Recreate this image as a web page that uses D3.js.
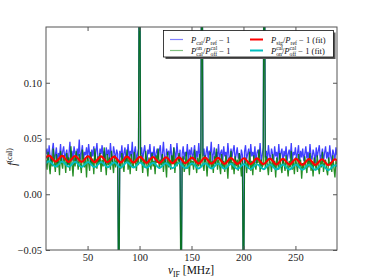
<!DOCTYPE html>
<html><head><meta charset="utf-8">
<script src="https://cdn.jsdelivr.net/npm/d3@7"></script>
<style>
html,body{margin:0;padding:0;background:#fff;}
svg{display:block;font-family:"Liberation Serif","DejaVu Serif",serif;}
</style></head>
<body><svg id="c" width="374" height="280"></svg>
<script>
// frequency grid (MHz): first channel and spacing
const freqStart = 10, freqStep = 1;
// P_cal/P_ref - 1 (blue)
const blueRatio = [
0.036,0.041,0.030,0.044,0.033,0.027,0.039,0.046,0.031,0.035,0.042,0.028,0.037,0.033,0.045,0.029,0.038,0.043,0.032,0.036,
0.040,0.026,0.035,0.047,0.033,0.039,0.030,0.043,0.036,0.028,0.041,0.034,0.049,0.031,0.037,0.044,0.029,0.038,0.035,0.042,
0.031,0.045,0.036,0.027,0.040,0.034,0.043,0.030,0.038,0.046,0.033,0.029,0.041,0.036,0.044,0.032,0.039,0.027,0.042,0.035,
0.040,0.031,0.046,0.034,0.029,0.043,0.037,0.032,0.040,0.036,
-0.10,
0.039,0.033,0.044,0.030,0.037,0.042,0.028,0.036,0.045,0.032,0.039,0.034,0.047,0.030,0.038,0.043,0.029,0.036,0.041,
0.32,
0.035,0.042,0.030,0.038,0.044,0.033,0.027,0.040,0.036,0.045,0.031,0.038,0.034,0.043,0.029,0.037,0.041,0.032,0.039,
0.044,0.030,0.036,0.047,0.033,0.028,0.041,0.035,0.039,0.031,0.045,0.034,0.029,0.042,0.037,0.032,0.046,0.035,0.030,0.040,
-0.10,
0.036,0.043,0.031,0.038,0.034,0.045,0.029,0.040,0.035,0.042,0.031,0.037,0.044,0.028,0.039,0.033,0.046,0.032,0.038,
0.32,
0.034,0.041,0.029,0.037,0.043,0.032,0.039,0.035,0.047,0.030,0.036,0.042,0.028,0.038,0.033,0.045,0.031,0.037,0.040,
0.029,0.043,0.034,0.038,0.031,0.046,0.035,0.028,0.041,0.033,0.039,0.044,0.030,0.036,0.042,0.032,0.037,0.027,0.040,0.035,
-0.10,
0.038,0.044,0.031,0.036,0.041,0.029,0.045,0.034,0.038,0.032,0.043,0.028,0.037,0.040,0.033,0.046,0.030,0.035,0.042,
0.32,
0.033,0.039,0.029,0.044,0.035,0.031,0.041,0.036,0.028,0.043,0.034,0.038,0.030,0.045,0.032,0.037,0.041,0.027,0.039,
0.034,0.043,0.030,0.036,0.040,0.032,0.046,0.029,0.038,0.035,0.042,0.031,0.037,0.044,0.028,0.039,0.033,0.041,0.030,0.036,
0.043,0.032,0.038,0.029,0.045,0.034,0.031,0.040,0.036,0.028,0.042,0.033,0.039,0.044,0.030,0.035,0.041,0.029,0.037,0.043,
0.032,0.038,0.030,0.044,0.034,0.029,0.040,0.036,0.031,0.042,0.035
];
// P^on_cal/P^cal_off - 1 (green)
const greenRatio = [
0.031,0.022,0.038,0.027,0.018,0.034,0.025,0.041,0.029,0.020,0.036,0.024,0.032,0.017,0.039,0.028,0.023,0.035,0.030,0.019,
0.037,0.026,0.033,0.021,0.043,0.028,0.016,0.034,0.025,0.039,0.030,0.022,0.036,0.027,0.019,0.040,0.031,0.024,0.033,0.015,
0.035,0.028,0.021,0.038,0.026,0.032,0.018,0.041,0.029,0.023,0.034,0.027,0.037,0.020,0.031,0.025,0.042,0.030,0.017,0.036,
0.026,0.033,0.022,0.039,0.028,0.019,0.035,0.024,0.031,0.027,
-0.12,
0.030,0.023,0.037,0.026,0.020,0.034,0.029,0.040,0.022,0.032,0.018,0.036,0.027,0.024,0.038,0.030,0.021,0.033,0.026,
0.30,
0.028,0.035,0.019,0.031,0.024,0.039,0.027,0.016,0.033,0.029,0.022,0.037,0.025,0.030,0.018,0.035,0.028,0.041,0.023,
0.031,0.026,0.036,0.020,0.033,0.028,0.015,0.038,0.024,0.030,0.022,0.035,0.027,0.042,0.019,0.032,0.025,0.029,0.037,0.021,
-0.12,
0.029,0.034,0.020,0.027,0.038,0.023,0.031,0.017,0.035,0.026,0.030,0.022,0.040,0.028,0.019,0.033,0.025,0.036,0.024,
0.30,
0.027,0.021,0.035,0.029,0.016,0.032,0.025,0.038,0.023,0.030,0.019,0.034,0.027,0.041,0.022,0.031,0.026,0.018,0.036,
0.024,0.030,0.020,0.035,0.027,0.014,0.033,0.026,0.039,0.022,0.029,0.018,0.034,0.025,0.031,0.021,0.037,0.028,0.016,0.032,
-0.12,
0.025,0.033,0.019,0.029,0.024,0.038,0.021,0.030,0.017,0.035,0.026,0.022,0.032,0.028,0.040,0.020,0.031,0.024,0.027,
0.30,
0.023,0.034,0.026,0.017,0.031,0.028,0.020,0.036,0.024,0.030,0.015,0.033,0.027,0.022,0.037,0.025,0.019,0.032,0.028,
0.021,0.035,0.026,0.016,0.030,0.024,0.039,0.022,0.029,0.018,0.033,0.027,0.020,0.036,0.025,0.031,0.014,0.028,0.023,0.034,
0.026,0.019,0.032,0.024,0.037,0.021,0.029,0.016,0.033,0.027,0.022,0.035,0.025,0.018,0.030,0.024,0.038,0.020,0.028,0.031,
0.022,0.017,0.033,0.026,0.029,0.020,0.035,0.024,0.015,0.030,0.027
];
// fit curves, sampled at their crests and troughs
const fitFreq = [6.75,13,19.25,25.5,31.75,38,44.25,50.5,56.75,63,69.25,75.5,81.75,88,94.25,100.5,106.75,113,119.25,125.5,
131.75,138,144.25,150.5,156.75,163,169.25,175.5,181.75,188,194.25,200.5,206.75,213,219.25,225.5,231.75,238,244.25,250.5,
256.75,263,269.25,275.5,281.75,288,294.25];
const redFit = [0.0294,0.0346,0.0293,0.0344,0.0291,0.0343,0.0290,0.0341,0.0288,0.0340,0.0287,0.0338,0.0285,0.0337,0.0284,0.0335,
0.0282,0.0334,0.0281,0.0332,0.0279,0.0331,0.0278,0.0329,0.0276,0.0328,0.0275,0.0326,0.0273,0.0324,0.0272,0.0323,0.0270,0.0321,
0.0269,0.0320,0.0267,0.0318,0.0266,0.0317,0.0264,0.0315,0.0263,0.0314,0.0261,0.0312,0.0260];
const cyanFit = [0.0249,0.0295,0.0248,0.0293,0.0246,0.0292,0.0245,0.0290,0.0243,0.0289,0.0242,0.0287,0.0240,0.0286,0.0239,0.0284,
0.0237,0.0283,0.0236,0.0281,0.0234,0.0280,0.0233,0.0278,0.0231,0.0277,0.0230,0.0275,0.0228,0.0273,0.0227,0.0272,0.0225,0.0270,
0.0224,0.0269,0.0222,0.0267,0.0221,0.0266,0.0219,0.0264,0.0218,0.0263,0.0216,0.0261,0.0215];
const xTicks = [50,100,150,200,250];
const yTicks = [-0.05,0.00,0.05,0.10];

const svg = d3.select("#c");
const L=46, R=337, T=27, B=250;
const x = d3.scaleLinear().domain([10,290]).range([L,R]);
const y = d3.scaleLinear().domain([-0.05,0.15]).range([B,T]);

svg.append("defs").append("clipPath").attr("id","clip")
  .append("rect").attr("x",L).attr("y",T).attr("width",R-L).attr("height",B-T);
const plot = svg.append("g").attr("clip-path","url(#clip)");

const rawLine = d3.line().x((d,i)=>x(freqStart+i*freqStep)).y(d=>y(d));
plot.append("path").datum(blueRatio).attr("d",rawLine)
  .attr("fill","none").attr("stroke","#0000ff").attr("stroke-opacity",0.75).attr("stroke-width",1.3);
plot.append("path").datum(greenRatio).attr("d",rawLine)
  .attr("fill","none").attr("stroke","#007a00").attr("stroke-opacity",0.85).attr("stroke-width",1.3);
const fitLine = d3.line().x((d,i)=>x(fitFreq[i])).y(d=>y(d)).curve(d3.curveMonotoneX);
plot.append("path").datum(redFit).attr("d",fitLine)
  .attr("fill","none").attr("stroke","#ff0000").attr("stroke-width",2.2);
plot.append("path").datum(cyanFit).attr("d",fitLine)
  .attr("fill","none").attr("stroke","#00bfbf").attr("stroke-width",2);

// frame
svg.append("rect").attr("x",L).attr("y",T).attr("width",R-L).attr("height",B-T)
  .attr("fill","none").attr("stroke","#555").attr("stroke-width",1);

// axes with inward ticks
const axB = svg.append("g").attr("transform",`translate(0,${B})`)
  .call(d3.axisBottom(x).tickValues(xTicks).tickSizeInner(-4).tickSizeOuter(0).tickPadding(4).tickFormat(d3.format("d")));
const axT = svg.append("g").attr("transform",`translate(0,${T})`)
  .call(d3.axisTop(x).tickValues(xTicks).tickSizeInner(-4).tickSizeOuter(0).tickFormat(""));
const axL = svg.append("g").attr("transform",`translate(${L},0)`)
  .call(d3.axisLeft(y).tickValues(yTicks).tickSizeInner(-4).tickSizeOuter(0).tickPadding(4).tickFormat(d3.format(".2f")));
const axR = svg.append("g").attr("transform",`translate(${R},0)`)
  .call(d3.axisRight(y).tickValues(yTicks).tickSizeInner(-4).tickSizeOuter(0).tickFormat(""));
[axB,axT,axL,axR].forEach(a=>{
  a.select(".domain").remove();
  a.selectAll("line").attr("stroke","#555");
  a.selectAll("text").attr("font-family","Liberation Serif, serif").attr("font-size",10.5).attr("fill","#222");
});

function rich(g, px, py, parts, size, anchor){
  const t = g.append("text").attr("x",px).attr("y",py).attr("font-size",size).attr("fill","#111");
  if(anchor) t.attr("text-anchor",anchor);
  let off = 0;
  parts.forEach(p=>{
    const [s, mode] = p;
    if(mode==="subsup"){
      const sup = t.append("tspan").text(p[2]).attr("font-size",size*0.68).attr("dy",-0.38*size-off);
      off = -0.38*size;
      const w = sup.node().getComputedTextLength();
      const sub = t.append("tspan").text(s).attr("font-size",size*0.68).attr("dx",-w).attr("dy",0.62*size);
      off = 0.24*size;
      const w2 = sub.node().getComputedTextLength();
      if(w>w2) t.append("tspan").text("").attr("dx",w-w2);
      return;
    }
    let target = 0;
    if(mode==="sub") target = 0.24*size;
    if(mode==="sup") target = -0.38*size;
    const ts = t.append("tspan").text(s).attr("dy",target-off);
    off = target;
    if(mode==="sub"||mode==="sup") ts.attr("font-size",size*0.68);
    if(mode==="i") ts.attr("font-style","italic");
  });
  return t;
}

// axis labels
rich(svg, 191, 274, [["ν","i"],["IF","sub"],[" [MHz]",""]], 11.5, "middle");
const yl = svg.append("g").attr("transform","translate(16,157) rotate(-90)");
rich(yl, 0, 0, [["f","i"],["(cal)","sup"]], 11.5, "middle");

// legend
const lg = svg.append("g");
lg.append("rect").attr("x",165.5).attr("y",32.5).attr("width",170).attr("height",26.5).attr("fill","#555");
lg.append("rect").attr("x",163.5).attr("y",30.5).attr("width",170).attr("height",26.5)
  .attr("fill","#fff").attr("stroke","#111").attr("stroke-width",0.8);
const items = [
 {c:"#8080ff", w:1.2, x:170, y:39.5, parts:[["P","i"],["cal","sub"],["/",""],["P","i"],["ref","sub"],[" − 1",""]]},
 {c:"#80c080", w:1.2, x:170, y:50.5, parts:[["P","i"],["cal","subsup","on"],["/",""],["P","i"],["off","subsup","cal"],[" − 1",""]]},
 {c:"#ff0000", w:2, x:250, y:39.5, parts:[["P","i"],["sig","sub"],["/",""],["P","i"],["ref","sub"],[" − 1 (fit)",""]]},
 {c:"#00bfbf", w:2, x:250, y:50.5, parts:[["P","i"],["on","subsup","cal"],["/",""],["P","i"],["off","subsup","cal"],[" − 1 (fit)",""]]}
];
items.forEach(it=>{
  lg.append("line").attr("x1",it.x).attr("x2",it.x+13).attr("y1",it.y).attr("y2",it.y)
    .attr("stroke",it.c).attr("stroke-width",it.w);
  rich(lg, it.x+21, it.y+3, it.parts, 8.5);
});
</script></body></html>
